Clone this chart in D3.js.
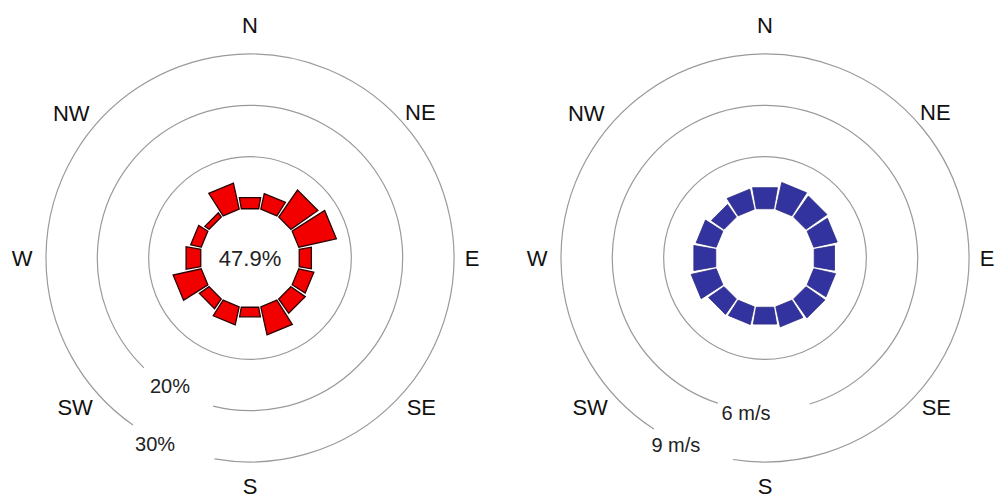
<!DOCTYPE html>
<html>
<head>
<meta charset="utf-8">
<script src="https://cdn.jsdelivr.net/npm/d3@7"></script>
<style>
  html, body { margin: 0; padding: 0; background: #fff; }
  svg { display: block; font-family: "Liberation Sans", Arial, sans-serif; }
</style>
</head>
<body>
<svg id="chart" width="994" height="499"></svg>
<script>
// ---------- data ----------
const directions = ["N","NNE","NE","ENE","E","ESE","SE","SSE","S","SSW","SW","WSW","W","WNW","NW","NNW"];
const frequency = [2.2, 3.1, 6.4, 7.5, 2.4, 3.0, 3.4, 5.6, 1.9, 3.6, 2.3, 5.6, 2.9, 2.1, 1.0, 5.2]; // %
const meanSpeed = [1.25, 1.6, 1.5, 1.4, 1.2, 1.3, 1.35, 1.2, 1.0, 1.06, 1.1, 1.5, 1.3, 1.2, 0.9, 1.2]; // m/s
const calmPercent = "47.9%";
const compassLabels = ["N","NE","E","SE","S","SW","W","NW"];
const compassBearings = [0, 49.5, 90, 131, 180, 229.5, 270, 309];
const compassRadii = [233, 224, 222, 227, 228, 230, 228, 230];
const freqTicks = [10, 20, 30];
const freqTickLabels = ["", "20%", "30%"];
const speedTicks = [3, 6, 9];
const speedTickLabels = ["", "6 m/s", "9 m/s"];

// ---------- drawing ----------
const svg = d3.select("#chart");
const deg = Math.PI / 180;

function rose(opts) {
  const g = svg.append("g").attr("transform", `translate(${opts.cx},${opts.cy})`);
  const r = d3.scaleLinear().domain([0, opts.max]).range([50, 204]);
  const ang = d3.scalePoint().domain(directions).range([0, 360 * 15 / 16]);

  // rings with gaps for labels
  opts.ticks.forEach((t, i) => {
    const rad = r(t);
    const gap = opts.gaps[i];
    const p = d3.path();
    if (gap) {
      const a0 = (gap[1] - 90) * deg, a1 = (gap[0] - 90 + 360) * deg;
      p.moveTo(rad * Math.cos(a0), rad * Math.sin(a0));
      p.arc(0, 0, rad, a0, a1, false);
    } else {
      p.moveTo(rad, 0);
      p.arc(0, 0, rad, 0, 2 * Math.PI, false);
    }
    g.append("path").attr("d", p.toString())
      .attr("fill", "none").attr("stroke", "#9a9a9a").attr("stroke-width", 1.2);
    if (opts.labels[i]) {
      const b = opts.labelPos[i][0] * deg, lr = opts.labelPos[i][1];
      g.append("text")
        .attr("x", lr * Math.sin(b)).attr("y", -lr * Math.cos(b))
        .attr("dy", "0.35em").attr("text-anchor", "middle")
        .attr("font-size", 20).attr("fill", "#222")
        .text(opts.labels[i]);
    }
  });

  // bars
  const hw = 10;
  const line = d3.line();
  g.selectAll("path.bar").data(directions).join("path")
    .attr("class", "bar")
    .attr("d", (d, i) => {
      const a = ang(d), r0 = r(0), r1 = r(opts.values[i]);
      const pts = [[r0, a - hw], [r1, a - hw], [r1, a + hw], [r0, a + hw]]
        .map(([rr, aa]) => [rr * Math.sin(aa * deg), -rr * Math.cos(aa * deg)]);
      return line(pts) + "Z";
    })
    .attr("fill", opts.fill).attr("stroke", opts.stroke).attr("stroke-width", opts.strokeWidth);

  // compass labels
  compassLabels.forEach((lab, i) => {
    const b = compassBearings[i] * deg, lr = compassRadii[i];
    g.append("text")
      .attr("x", lr * Math.sin(b)).attr("y", -lr * Math.cos(b))
      .attr("dy", "0.35em").attr("text-anchor", "middle")
      .attr("font-size", 22).attr("fill", "#111")
      .text(lab);
  });

  if (opts.center) {
    g.append("text").attr("x", 0).attr("y", 0).attr("dy", "0.35em")
      .attr("text-anchor", "middle").attr("font-size", 22).attr("fill", "#222")
      .text(opts.center);
  }
}

rose({
  cx: 250, cy: 258, max: 30, values: frequency,
  ticks: freqTicks, labels: freqTickLabels,
  gaps: [null, [194, 224], [190, 215]],
  labelPos: [null, [212, 151], [207, 209]],
  fill: "#f20000", stroke: "#2a0000", strokeWidth: 1.3, center: calmPercent
});

rose({
  cx: 765, cy: 258, max: 9, values: meanSpeed,
  ticks: speedTicks, labels: speedTickLabels,
  gaps: [null, [163, 198], [189, 213]],
  labelPos: [null, [187, 156], [205.5, 207]],
  fill: "#3333a0", stroke: "#2a2a80", strokeWidth: 0.8, center: null
});
</script>
</body>
</html>
